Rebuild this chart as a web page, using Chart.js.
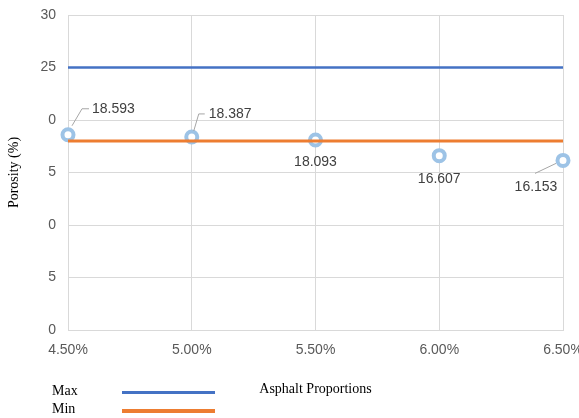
<!DOCTYPE html>
<html>
<head>
<meta charset="utf-8">
<script src="https://cdn.jsdelivr.net/npm/chart.js@4.4.1/dist/chart.umd.min.js"></script>
<style>
  body { margin: 0; background: #fff; }
  #wrap { position: relative; width: 579px; height: 418px; }
  .leg { position: absolute; font-family: "Liberation Serif", serif; font-size: 14px; color: #000; }
  .swatch { position: absolute; height: 3px; }
</style>
</head>
<body>
<div id="wrap">
  <canvas id="chart" width="579" height="418"></canvas>
  <div class="leg" style="left:52px; top:383px;">Max</div>
  <div class="swatch" style="left:122px; top:391px; width:93px; background:#4472C4;"></div>
  <div class="leg" style="left:52px; top:401px;">Min</div>
  <div class="swatch" style="left:122px; top:409px; width:93px; height:4px; background:#ED7D31;"></div>
</div>
<script>
const categories = ["4.50%", "5.00%", "5.50%", "6.00%", "6.50%"];
const porosity = [18.593, 18.387, 18.093, 16.607, 16.153];
const maxLimit = [25, 25, 25, 25, 25];
const minLimit = [18, 18, 18, 18, 18];
const yTickLabels = ["0", "5", "0", "5", "0", "25", "30"];

// where each value label sits relative to its point
const labelSpots = [
  { dx: 24, dy: -26, align: "left", leader: [[4, -9], [14, -26], [21, -26]] },
  { dx: 17, dy: -23, align: "left", leader: [[2, -6], [7, -23], [13, -23]] },
  { dx: 0, dy: 22, align: "center" },
  { dx: 0, dy: 24, align: "center" },
  { dx: -27, dy: 27, align: "center", leader: [[-7, 3], [-28, 13]] }
];

const valueLabels = {
  id: "valueLabels",
  afterDatasetsDraw(chart) {
    const ctx = chart.ctx;
    const meta = chart.getDatasetMeta(0);
    ctx.save();
    ctx.font = "14px 'Liberation Sans', sans-serif";
    ctx.fillStyle = "#404040";
    ctx.textBaseline = "middle";
    meta.data.forEach((pt, i) => {
      const s = labelSpots[i];
      if (s.leader) {
        ctx.strokeStyle = "#A6A6A6";
        ctx.lineWidth = 1;
        ctx.beginPath();
        s.leader.forEach((p, j) => {
          if (j === 0) ctx.moveTo(pt.x + p[0], pt.y + p[1]);
          else ctx.lineTo(pt.x + p[0], pt.y + p[1]);
        });
        ctx.stroke();
      }
      ctx.textAlign = s.align;
      ctx.fillText(porosity[i].toFixed(3), pt.x + s.dx, pt.y + s.dy);
    });
    ctx.restore();
  }
};

new Chart(document.getElementById("chart"), {
  type: "line",
  data: {
    labels: categories,
    datasets: [
      {
        label: "Porosity",
        data: porosity,
        showLine: false,
        pointRadius: 5.5,
        pointBorderWidth: 4,
        pointBorderColor: "#9DC3E6",
        pointBackgroundColor: "#ffffff",
        order: 3
      },
      {
        label: "Max",
        data: maxLimit,
        borderColor: "#4472C4",
        borderWidth: 2.5,
        pointRadius: 0,
        order: 2
      },
      {
        label: "Min",
        data: minLimit,
        borderColor: "#ED7D31",
        borderWidth: 3,
        pointRadius: 0,
        order: 1
      }
    ]
  },
  options: {
    responsive: false,
    animation: false,
    layout: { padding: { top: 15, right: 16, bottom: 0, left: 0 } },
    plugins: { legend: { display: false }, tooltip: { enabled: false } },
    scales: {
      x: {
        offset: false,
        grid: { color: "#D9D9D9", drawTicks: false },
        border: { color: "#D9D9D9" },
        ticks: {
          padding: 12,
          maxRotation: 0,
          color: "#595959",
          font: { family: "'Liberation Sans', sans-serif", size: 14 }
        },
        title: {
          display: true,
          text: "Asphalt Proportions",
          color: "#000",
          font: { family: "'Liberation Serif', serif", size: 14 },
          padding: { top: 0, bottom: 20 }
        },
        afterFit: s => {
          s.height = 88;
          s.paddingLeft = 0;
          s.paddingRight = 0;
        }
      },
      y: {
        min: 0,
        max: 30,
        grid: { color: "#D9D9D9", drawTicks: false },
        border: { color: "#D9D9D9" },
        ticks: {
          stepSize: 5,
          padding: 12,
          color: "#595959",
          font: { family: "'Liberation Sans', sans-serif", size: 14 },
          callback: (v, i) => yTickLabels[i]
        },
        title: {
          display: true,
          text: "Porosity (%)",
          color: "#000",
          font: { family: "'Liberation Serif', serif", size: 14 },
          padding: { top: 6, bottom: 0 }
        },
        afterFit: s => {
          s.width = 68;
          s.paddingTop = 0;
          s.paddingBottom = 0;
        }
      }
    }
  },
  plugins: [valueLabels]
});
</script>
</body>
</html>
